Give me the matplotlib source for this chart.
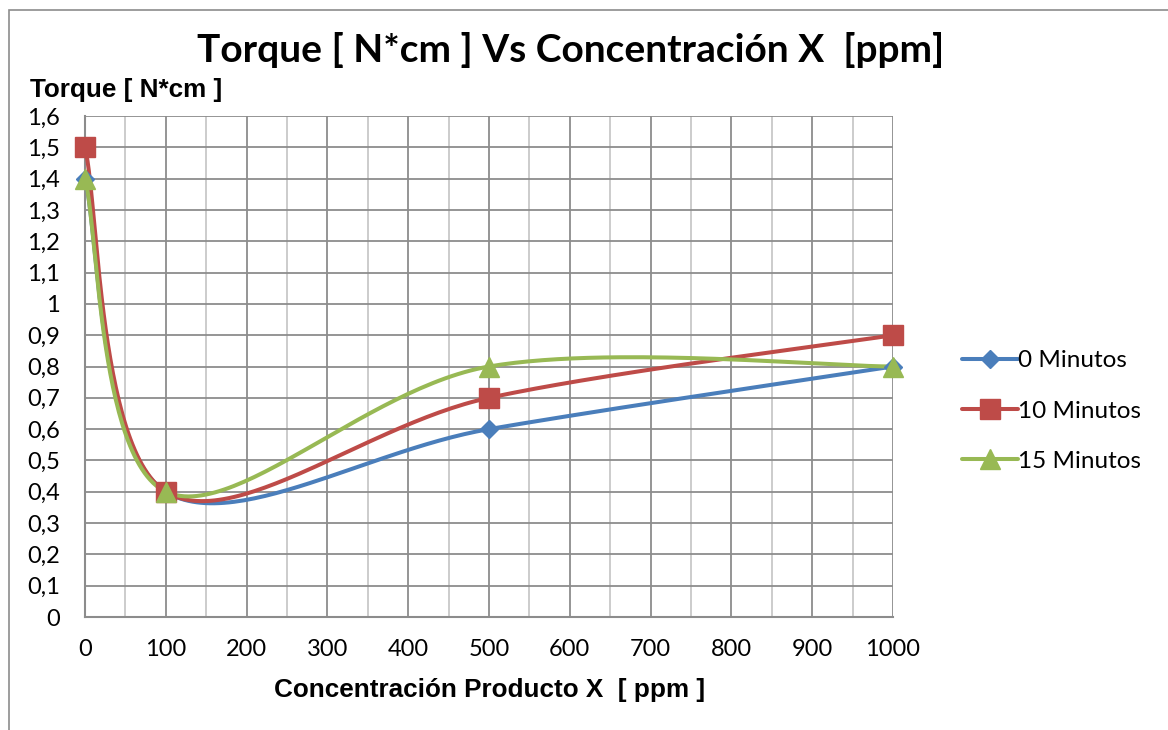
import numpy as np
import matplotlib
matplotlib.use("Agg")
import matplotlib.pyplot as plt
from matplotlib.patches import Rectangle
from matplotlib.ticker import MultipleLocator, FuncFormatter

# Data
concentracion = [0, 100, 500, 1000]
torque_0min = [1.4, 0.4, 0.6, 0.8]
torque_10min = [1.5, 0.4, 0.7, 0.9]
torque_15min = [1.4, 0.4, 0.8, 0.8]
series_labels = ["0 Minutos", "10 Minutos", "15 Minutos"]
x_ticks = [0, 100, 200, 300, 400, 500, 600, 700, 800, 900, 1000]

colors = ["#4A7EBB", "#BE4B48", "#98B954"]
markers = ["D", "s", "^"]
msizes = [9, 14, 14]

CAL = ["Lato", "DejaVu Sans"]
ARIAL = ["Liberation Sans", "DejaVu Sans"]

fig = plt.figure(figsize=(11.68, 7.3), dpi=100)
ax = fig.add_axes([85 / 1168, 1 - 617 / 730, 808 / 1168, 501 / 730])
ax.set_xlim(0, 1000)
ax.set_ylim(0, 1.6)

# Outer chart frame
fig.patches.append(Rectangle((9 / 1168, -0.1), 1.2, 1 - 10 / 730 + 0.1,
                             transform=fig.transFigure, fill=False,
                             edgecolor="#8C8C8C", linewidth=1.2))

# Grid
ax.xaxis.set_major_locator(MultipleLocator(100))
ax.xaxis.set_minor_locator(MultipleLocator(50))
ax.yaxis.set_major_locator(MultipleLocator(0.1))
ax.grid(which="major", axis="both", color="#8C8C8C", linewidth=1.3, zorder=0)
ax.grid(which="minor", axis="x", color="#C8C8C8", linewidth=1.3, zorder=0)
for s in ax.spines.values():
    s.set_visible(False)
for side in ("left", "bottom"):
    ax.spines[side].set_visible(True)
    ax.spines[side].set_color("#8C8C8C")
    ax.spines[side].set_linewidth(1.5)
ax.tick_params(which="both", length=0)
ax.tick_params(axis="x", pad=16)
ax.tick_params(axis="y", pad=18)
ax.set_xticks(x_ticks)
ax.yaxis.set_major_formatter(FuncFormatter(lambda v, p: ("%g" % round(v, 1)).replace(".", ",")))
for lab in ax.get_xticklabels() + ax.get_yticklabels():
    lab.set_fontfamily(CAL)
    lab.set_fontsize(17)


def smooth(xs, ys, n=60):
    """Excel-like smoothed line: cubic Bezier segments built in display space."""
    pts = ax.transData.transform(np.column_stack([xs, ys]))
    ext = np.vstack([pts[0], pts, pts[-1]])
    out = []
    t = np.linspace(0, 1, n)[:, None]
    for i in range(len(pts) - 1):
        p0, p1, p2, p3 = ext[i], ext[i + 1], ext[i + 2], ext[i + 3]
        c1 = p1 + (p2 - p0) / 6.0
        c2 = p2 - (p3 - p1) / 6.0
        seg = ((1 - t) ** 3) * p1 + 3 * ((1 - t) ** 2) * t * c1 + 3 * (1 - t) * t ** 2 * c2 + t ** 3 * p2
        out.append(seg)
    curve = ax.transData.inverted().transform(np.vstack(out))
    return curve[:, 0], curve[:, 1]


handles = []
for ys, c, m, ms, lab in zip([torque_0min, torque_10min, torque_15min], colors, markers, msizes, series_labels):
    sx, sy = smooth(concentracion, ys)
    ax.plot(sx, sy, color=c, linewidth=2.9, solid_capstyle="round", zorder=3, clip_on=False)
    ax.plot(concentracion, ys, linestyle="none", marker=m, markersize=ms, color=c,
            markeredgecolor=c, zorder=4, clip_on=False)
    h, = ax.plot([], [], color=c, linewidth=2.9, marker=m, markersize=ms, markeredgecolor=c,
                 solid_capstyle="round", label=lab)
    handles.append(h)

leg = fig.legend(handles=handles, loc="center left", bbox_to_anchor=(940 / 1168, 1 - 411 / 730),
                 frameon=False, handlelength=2.3, handletextpad=0.0, labelspacing=1.2,
                 prop={"family": CAL, "size": 17.5})

fig.text(571 / 1168, 1 - 50 / 730, "Torque [ N*cm ] Vs Concentración X  [ppm]",
         ha="center", va="center", fontsize=28, fontweight="bold", family=CAL)
fig.text(30 / 1168, 1 - 90 / 730, "Torque [ N*cm ]", ha="left", va="center",
         fontsize=18.8, fontweight="bold", family=ARIAL)
fig.text(490 / 1168, 1 - 690 / 730, "Concentración Producto X  [ ppm ]", ha="center", va="center",
         fontsize=18.8, fontweight="bold", family=ARIAL)

fig.savefig("out.png", dpi=100)
